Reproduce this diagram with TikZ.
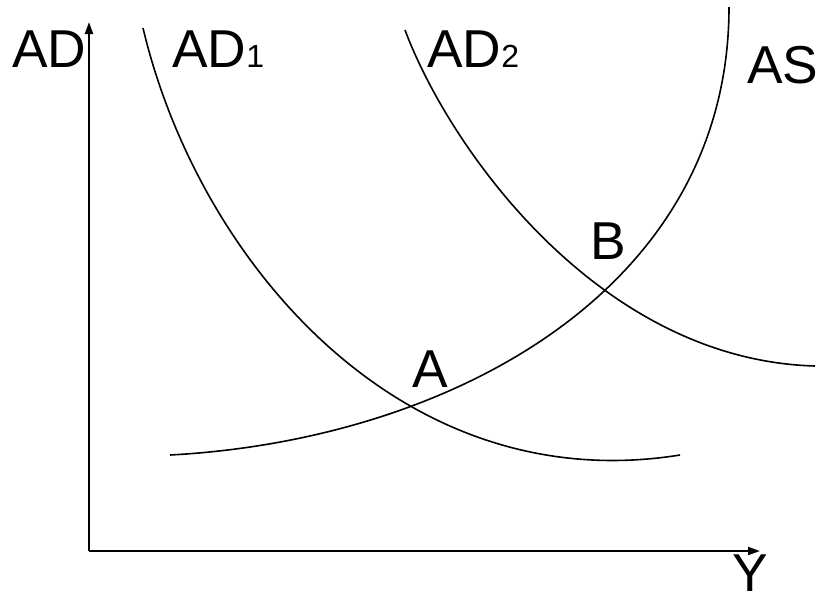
\documentclass[tikz,border=0pt]{standalone}
\usepackage{fontspec}
\setmainfont{Liberation Sans}
\usetikzlibrary{arrows.meta}

\tikzset{
	axis/.style={line width=1.5pt, -{Triangle[length=9pt,width=6pt]}},
	curve/.style={line width=1.2pt},
	lbl/.style={inner sep=0pt, anchor=base west, font=\fontsize{40}{48}\selectfont},
}
\newcommand{\idx}[1]{{\fontsize{24}{24}\selectfont #1}}

\begin{document}
\begin{tikzpicture}[x=0.75pt, y=-0.75pt]
	
	\useasboundingbox (0,0) rectangle (817,593);
	
	% axes
	\coordinate (O) at (89,551);
	\coordinate (ytop) at (89,22);
	\coordinate (xend) at (760,551);
	\draw[axis] (O) -- (ytop);
	\draw[axis] (O) -- (xend);
	
	% demand curves
	\draw[curve] (143,28) .. controls (198,260) and (400,500) .. (680,455);
	\draw[curve] (405,30) .. controls (450,150) and (600,360) .. (815,366);
	
	% supply curve
	\draw[curve] (170,455) .. controls (450,440) and (729,290) .. (729,7);
	
	% labels
	\node[lbl] (lAD) at (12,67) {AD};
	\node[lbl] (lAD1) at (172,67) {AD\idx{1}};
	\node[lbl] (lAD2) at (427,67) {AD\idx{2}};
	\node[lbl] (lAS) at (747,83) {AS};
	\node[lbl] (lA) at (412,387) {A};
	\node[lbl] (lB) at (590,259) {B};
	\node[lbl, anchor=base] (lY) at (750,591) {Y};
	
\end{tikzpicture}
\end{document}
